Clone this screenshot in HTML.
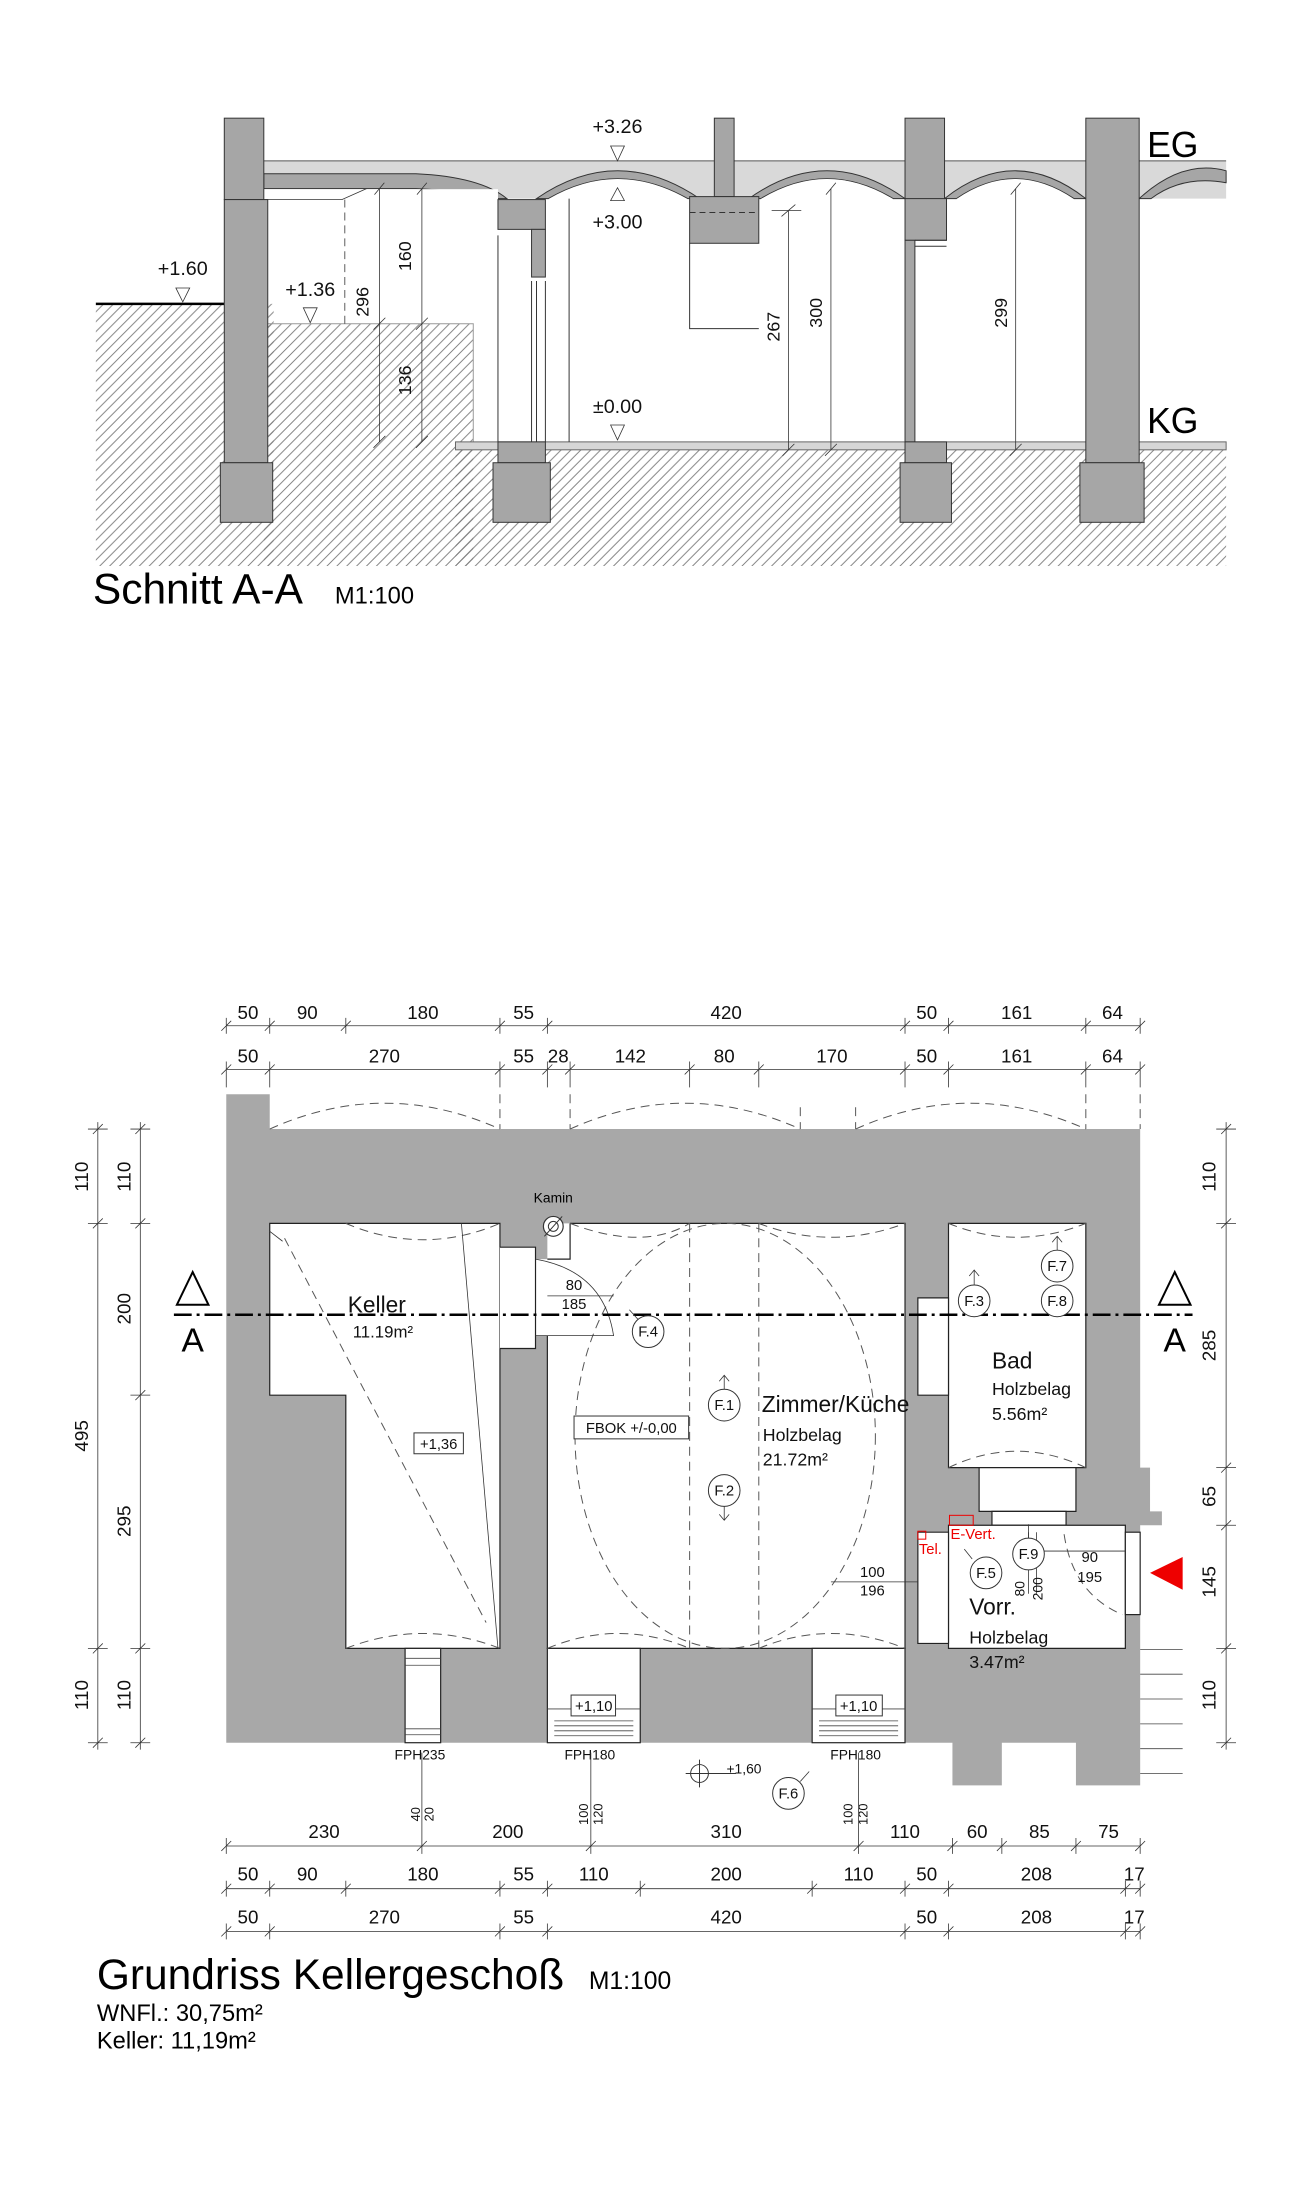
<!DOCTYPE html>
<html><head><meta charset="utf-8"><style>
html,body{margin:0;padding:0;background:#fff;}
svg{display:block;font-family:"Liberation Sans",sans-serif;}
</style></head><body>
<svg width="1290" height="2187" viewBox="0 0 1290 2187" xmlns="http://www.w3.org/2000/svg">
<defs>
<pattern id="h" patternUnits="userSpaceOnUse" width="10" height="10">
<path d="M-2,12 L12,-2 M-2,2 L2,-2 M8,12 L12,8" stroke="#777" stroke-width="0.9"/>
</pattern>
</defs>
<g transform="matrix(0.988 0 0 0.993 1 0)">
<!-- ============ SECTION ============ -->
<g stroke="#333" stroke-width="1">
<rect x="96" y="306" width="180" height="264" fill="url(#h)" stroke="none"/>
<rect x="266" y="326" width="212" height="244" fill="url(#h)" stroke="none"/>
<rect x="460" y="453" width="780" height="117" fill="url(#h)" stroke="none"/>
<path d="M266,326 H478 V445" fill="none" stroke="#999"/>
<line x1="96" y1="306" x2="226" y2="306" stroke="#000" stroke-width="2.5"/>
<rect x="460" y="445" width="780" height="8" fill="#d6d6d6" stroke="#666"/>
<rect x="266" y="162" width="974" height="38" fill="#d9d9d9" stroke="none"/>
<line x1="266" y1="162" x2="1240" y2="162" stroke="#555"/>
<path d="M266,175 L420,175 Q485,178 512,200 L498,200 Q470,192 420,190 L266,190 Z" fill="#a6a6a6"/>
<rect x="266" y="190.5" width="237" height="12" fill="#fff" stroke="none"/>
<path d="M542,200 Q624,144 707,200 L695,200 Q624,160 554,200 Z" fill="#a6a6a6"/>
<path d="M554,200.5 Q624,160 695,200.5 Z" fill="#fff" stroke="none"/>
<path d="M757,200 Q836,144 915,200 L903,200 Q836,160 769,200 Z" fill="#a6a6a6"/>
<path d="M769,200.5 Q836,160 903,200.5 Z" fill="#fff" stroke="none"/>
<path d="M955,200 Q1026,144 1098,200 L1086,200 Q1026,160 967,200 Z" fill="#a6a6a6"/>
<path d="M967,200.5 Q1026,160 1086,200.5 Z" fill="#fff" stroke="none"/>
<path d="M1152,200 Q1196,160 1240,172 L1240,184 Q1196,176 1164,200 Z" fill="#a6a6a6"/>
<rect x="226" y="119" width="40" height="82" fill="#a6a6a6"/>
<rect x="226" y="201" width="44" height="265" fill="#a6a6a6"/>
<rect x="222" y="466" width="53" height="60" fill="#a6a6a6"/>
<rect x="503" y="201" width="48" height="30" fill="#a6a6a6"/>
<rect x="537" y="231" width="14" height="48" fill="#a6a6a6"/>
<line x1="503" y1="237" x2="503" y2="445"/><line x1="537" y1="283" x2="537" y2="445"/>
<line x1="542" y1="283" x2="542" y2="445"/><line x1="551" y1="283" x2="551" y2="445"/>
<line x1="575" y1="200" x2="575" y2="445"/>
<rect x="503" y="445" width="48" height="21" fill="#a6a6a6"/>
<rect x="498" y="466" width="58" height="60" fill="#a6a6a6"/>
<rect x="722" y="119" width="20" height="79" fill="#a6a6a6"/>
<rect x="697" y="198" width="70" height="47" fill="#a6a6a6"/>
<path d="M697,245 V331 H767" fill="none"/>
<line x1="697" y1="214" x2="767" y2="214" stroke-dasharray="6,4"/>
<rect x="915" y="119" width="40" height="82" fill="#a6a6a6"/>
<rect x="915" y="200" width="42" height="42" fill="#a6a6a6"/>
<rect x="915" y="242" width="10" height="203" fill="#a6a6a6"/>
<line x1="925" y1="242" x2="957" y2="242"/><line x1="925" y1="248" x2="957" y2="248"/>
<rect x="915" y="445" width="42" height="21" fill="#a6a6a6"/>
<rect x="910" y="466" width="52" height="60" fill="#a6a6a6"/>
<rect x="1098" y="119" width="54" height="347" fill="#a6a6a6"/>
<rect x="1092" y="466" width="65" height="60" fill="#a6a6a6"/>
</g>
<g stroke="#333" stroke-width="0.8" fill="none">
<path d="M266,201 H345 L370,190" /><line x1="348" y1="201" x2="348" y2="326" stroke-dasharray="8,5"/>
<line x1="383" y1="190" x2="383" y2="445"/><line x1="426" y1="190" x2="426" y2="445"/>
<line x1="797" y1="212" x2="797" y2="453"/><line x1="840" y1="190" x2="840" y2="453"/><line x1="1027" y1="190" x2="1027" y2="453"/>
<path d="M780,212 H810 M790,218 L804,206 M377,451 L389,439 M420,451 L432,439 M377,332 L389,320 M420,332 L432,320 M791,459 L803,447 M834,459 L846,447 M1021,459 L1033,447 M835,196 L845,184 M1022,196 L1032,184 M378,196 L388,184 M421,196 L431,184"/>
<path d="M617,147 H631 L624,162 Z M617,202 H631 L624,189 Z M617,428 H631 L624,443 Z M177,290 H191 L184,304 Z M306,310 H320 L313,325 Z"/>
</g>
<g font-size="20" fill="#111" text-anchor="middle">
<text x="624" y="134">+3.26</text>
<text x="624" y="230">+3.00</text>
<text x="624" y="416">±0.00</text>
<text x="184" y="277">+1.60</text>
<text x="313" y="298">+1.36</text>
<text transform="translate(372,304) rotate(-90)" font-size="18">296</text>
<text transform="translate(415,258) rotate(-90)" font-size="18">160</text>
<text transform="translate(415,383) rotate(-90)" font-size="18">136</text>
<text transform="translate(788,329) rotate(-90)" font-size="18">267</text>
<text transform="translate(831,315) rotate(-90)" font-size="18">300</text>
<text transform="translate(1018,315) rotate(-90)" font-size="18">299</text>
</g>
<text x="1186" y="158" font-size="36" text-anchor="middle">EG</text>
<text x="1186" y="436" font-size="36" text-anchor="middle">KG</text>
<text x="93" y="608" font-size="43">Schnitt A-A</text>
<text x="338" y="608" font-size="24">M1:100</text>

<!-- ============ PLAN ============ -->
<g transform="translate(0,5)">
<path d="M228,1097 H272 V1132 H1153 V1473 H1163 V1517 H1175 V1531 H1153 V1750 H1153 V1793 H1088 V1750 H1013 V1793 H963 V1750 H228 Z" fill="#a8a8a8"/>
<g fill="#fff" stroke="#222" stroke-width="1.2">
<path d="M272,1227 H505 V1655 H349 V1400 H272 Z"/>
<path d="M505,1251 H541 V1263 H553 V1227 H576 V1263 H576 V1227 H915 V1655 H553 V1340 H541 V1353 H505 Z" stroke="none"/>
<path d="M576,1227 H915 V1655 H553 V1340 M553,1263 H576 V1227" fill="none"/>
<path d="M505,1251 H541 V1353 H505" fill="#fff"/>
<path d="M959,1227 H1098 V1473 H959 Z"/>
<path d="M928,1302 H959 V1400 H928 Z"/>
<path d="M990,1473 H1088 V1517 H990 Z"/>
<path d="M1003,1517 H1078 V1531 H1003 Z"/>
<path d="M959,1531 H1138 V1655 H959 Z"/>
<path d="M928,1538 H959 V1650 H928 Z"/>
<rect x="1138" y="1538" width="15" height="83"/>
<rect x="409" y="1655" width="36" height="95"/>
<rect x="553" y="1655" width="94" height="95"/>
<rect x="821" y="1655" width="94" height="95"/>
</g>
<g stroke="#444" stroke-width="0.8" fill="none">
<path d="M409,1665 H445 M409,1672 H445 M409,1736 H445 M409,1742 H445"/>
<path d="M553,1716 H647 M821,1716 H915"/>
<path d="M560,1728 H640 M560,1733 H640 M560,1738 H640 M560,1743 H640 M828,1728 H908 M828,1733 H908 M828,1738 H908 M828,1743 H908"/>
<path d="M1153,1656 H1196 M1153,1681 H1196 M1153,1706 H1196 M1153,1731 H1196 M1153,1756 H1196 M1153,1781 H1196"/>
</g>
<g stroke="#555" stroke-width="1" fill="none" stroke-dasharray="9,6">
<path d="M272,1132 Q388,1080 505,1132 M576,1132 Q692,1080 809,1132 M865,1132 Q981,1080 1098,1132"/>
<path d="M505,1097 V1132 M576,1097 V1132 M809,1110 V1132 M865,1110 V1132 M1098,1097 V1132 M1153,1097 V1132"/>
<path d="M349,1227 Q427,1260 505,1227 M349,1655 Q427,1625 505,1655 M576,1227 Q650,1255 697,1227 M767,1227 Q840,1255 915,1227 M553,1655 Q625,1625 697,1655 M767,1655 Q840,1625 915,1655 M959,1227 Q1028,1255 1098,1227 M959,1473 Q1028,1440 1098,1473"/>
<ellipse cx="733" cy="1441" rx="152" ry="214"/>
<path d="M697,1227 V1655 M767,1227 V1655"/>
<path d="M287,1242 L491,1629"/>
<path d="M1076,1540 Q1085,1600 1135,1621"/>
</g>
<g stroke="#333" stroke-width="0.8" fill="none">
<path d="M466,1227 L503,1655 M272,1235 L285,1245"/>
<path d="M541,1263 Q610,1275 620,1340 H541"/>
<path d="M1138,1557 H1040"/>
<path d="M840,1588 H928 M553,1300 H620"/>
<path d="M1040,1538 V1600 M1048,1538 V1600"/>
</g>
<line x1="175" y1="1319" x2="1206" y2="1319" stroke="#000" stroke-width="2.5" stroke-dasharray="18,5,3,5"/>
<path d="M178,1309 L194,1276 L210,1309 Z M1172,1309 L1188,1276 L1204,1309 Z" fill="#fff" stroke="#000" stroke-width="2"/>
<text x="194" y="1356" font-size="34" text-anchor="middle">A</text>
<text x="1188" y="1356" font-size="34" text-anchor="middle">A</text>
<circle cx="559" cy="1230" r="10" fill="#fff" stroke="#333" stroke-width="1.2"/><circle cx="559" cy="1230" r="5" fill="none" stroke="#333"/>
<line x1="550" y1="1240" x2="568" y2="1220" stroke="#333"/>
<text x="559" y="1206" font-size="14" text-anchor="middle">Kamin</text>
<g fill="#111">
<text x="351" y="1317" font-size="23">Keller</text>
<text x="356" y="1342" font-size="17">11.19m²</text>
<text x="770" y="1417" font-size="23">Zimmer/Küche</text>
<text x="771" y="1446" font-size="18">Holzbelag</text>
<text x="771" y="1471" font-size="18">21.72m²</text>
<text x="1003" y="1373" font-size="23">Bad</text>
<text x="1003" y="1400" font-size="18">Holzbelag</text>
<text x="1003" y="1425" font-size="18">5.56m²</text>
<text x="980" y="1621" font-size="23">Vorr.</text>
<text x="980" y="1650" font-size="18">Holzbelag</text>
<text x="980" y="1675" font-size="18">3.47m²</text>
</g>
<g fill="#fff" stroke="#333" stroke-width="1">
<rect x="418" y="1438" width="50" height="21"/><rect x="580" y="1421" width="116" height="23"/>
<rect x="577" y="1702" width="45" height="21"/><rect x="845" y="1702" width="47" height="21"/>
</g>
<g font-size="15" text-anchor="middle" fill="#111">
<text x="443" y="1454">+1,36</text><text x="638" y="1438">FBOK +/-0,00</text>
<text x="600" y="1718">+1,10</text><text x="868" y="1718">+1,10</text>
<text x="580" y="1294">80</text><text x="580" y="1313">185</text>
<text x="882" y="1583">100</text><text x="882" y="1602">196</text>
<text x="1102" y="1568">90</text><text x="1102" y="1588">195</text>
<text transform="translate(1036,1595) rotate(-90)" font-size="14">80</text>
<text transform="translate(1054,1595) rotate(-90)" font-size="14">200</text>
<text x="424" y="1767" font-size="14">FPH235</text><text x="596" y="1767" font-size="14">FPH180</text><text x="865" y="1767" font-size="14">FPH180</text>
<text x="752" y="1781" font-size="14">+1,60</text>
<text transform="translate(424,1822) rotate(-90)" font-size="13">40</text><text transform="translate(438,1822) rotate(-90)" font-size="13">20</text>
<text transform="translate(594,1822) rotate(-90)" font-size="13">100</text><text transform="translate(609,1822) rotate(-90)" font-size="13">120</text>
<text transform="translate(862,1822) rotate(-90)" font-size="13">100</text><text transform="translate(877,1822) rotate(-90)" font-size="13">120</text>
</g>
<circle cx="707" cy="1781" r="9" fill="none" stroke="#333"/><path d="M693,1781 H744 M707,1767 V1795" stroke="#333" fill="none"/>
<g fill="#fff" stroke="#333" stroke-width="1">
<circle cx="732" cy="1410" r="16"/><circle cx="732" cy="1496" r="16"/><circle cx="985" cy="1305" r="16"/>
<circle cx="1069" cy="1270" r="16"/><circle cx="1069" cy="1305" r="16"/><circle cx="655" cy="1336" r="16"/>
<circle cx="997" cy="1579" r="16"/><circle cx="1040" cy="1560" r="16"/><circle cx="797" cy="1801" r="16"/>
</g>
<g stroke="#333" fill="none" stroke-width="0.8">
<path d="M732,1394 V1380 M727,1386 L732,1380 L737,1386 M732,1512 V1526 M727,1520 L732,1526 L737,1520 M985,1289 V1274 M980,1280 L985,1274 L990,1280 M1069,1254 V1240 M1064,1246 L1069,1240 L1074,1246 M645,1324 L636,1314 M983,1565 L975,1555 M1040,1544 V1530 M809,1789 L818,1779"/>
</g>
<g font-size="15" text-anchor="middle" fill="#111">
<text x="732" y="1415">F.1</text><text x="732" y="1501">F.2</text><text x="985" y="1310">F.3</text>
<text x="1069" y="1275">F.7</text><text x="1069" y="1310">F.8</text><text x="655" y="1341">F.4</text>
<text x="997" y="1584">F.5</text><text x="1040" y="1565">F.9</text><text x="797" y="1806">F.6</text>
</g>
<rect x="960" y="1521" width="24" height="10" fill="none" stroke="#e00"/>
<rect x="928" y="1537" width="8" height="8" fill="none" stroke="#e00"/>
<text x="961" y="1545" font-size="15" fill="#e00">E-Vert.</text>
<text x="929" y="1560" font-size="15" fill="#e00">Tel.</text>
<path d="M1163,1579 L1196,1563 L1196,1596 Z" fill="#e00"/>

<g stroke="#333" stroke-width="0.8" fill="none">
<path d="M228,1028 H1153 M228,1072 H1153"/>
<path d="M223,1033L233,1023M228,1020V1036 M267,1033L277,1023M272,1020V1036 M344,1033L354,1023M349,1020V1036 M500,1033L510,1023M505,1020V1036 M548,1033L558,1023M553,1020V1036 M910,1033L920,1023M915,1020V1036 M954,1033L964,1023M959,1020V1036 M1093,1033L1103,1023M1098,1020V1036 M1148,1033L1158,1023M1153,1020V1036"/>
<path d="M223,1077L233,1067M228,1064V1090 M267,1077L277,1067M272,1064V1090 M500,1077L510,1067M505,1064V1090 M548,1077L558,1067M553,1064V1090 M571,1077L581,1067M576,1064V1090 M692,1077L702,1067M697,1064V1090 M762,1077L772,1067M767,1064V1090 M910,1077L920,1067M915,1064V1090 M954,1077L964,1067M959,1064V1090 M1093,1077L1103,1067M1098,1064V1090 M1148,1077L1158,1067M1153,1064V1090"/>
<path d="M98,1125 V1757 M141,1125 V1757 M1240,1125 V1757"/>
<path d="M93,1137L103,1127M88,1132H108 M93,1232L103,1222M88,1227H108 M93,1660L103,1650M88,1655H108 M93,1755L103,1745M88,1750H108"/>
<path d="M136,1137L146,1127M131,1132H151 M136,1232L146,1222M131,1227H151 M136,1405L146,1395M131,1400H151 M136,1660L146,1650M131,1655H151 M136,1755L146,1745M131,1750H151"/>
<path d="M1235,1137L1245,1127M1230,1132H1250 M1235,1232L1245,1222M1230,1227H1250 M1235,1478L1245,1468M1230,1473H1250 M1235,1536L1245,1526M1230,1531H1250 M1235,1660L1245,1650M1230,1655H1250 M1235,1755L1245,1745M1230,1750H1250"/>
<path d="M228,1854 H1153 M228,1897 H1153 M228,1940 H1153"/>
<path d="M426,1760 V1862 M597,1760 V1862 M868,1760 V1862"/>
<path d="M223,1859L233,1849M228,1846V1862 M421,1859L431,1849 M592,1859L602,1849 M863,1859L873,1849 M958,1859L968,1849M963,1846V1862 M1008,1859L1018,1849M1013,1846V1862 M1083,1859L1093,1849M1088,1846V1862 M1148,1859L1158,1849M1153,1846V1862"/>
<path d="M223,1902L233,1892M228,1889V1905 M267,1902L277,1892M272,1889V1905 M344,1902L354,1892M349,1889V1905 M500,1902L510,1892M505,1889V1905 M548,1902L558,1892M553,1889V1905 M642,1902L652,1892M647,1889V1905 M816,1902L826,1892M821,1889V1905 M910,1902L920,1892M915,1889V1905 M954,1902L964,1892M959,1889V1905 M1133,1902L1143,1892M1138,1889V1905 M1148,1902L1158,1892M1153,1889V1905"/>
<path d="M223,1945L233,1935M228,1932V1948 M267,1945L277,1935M272,1932V1948 M500,1945L510,1935M505,1932V1948 M548,1945L558,1935M553,1932V1948 M910,1945L920,1935M915,1932V1948 M954,1945L964,1935M959,1932V1948 M1133,1945L1143,1935M1138,1932V1948 M1148,1945L1158,1935M1153,1932V1948"/>
</g>
<g font-size="19" text-anchor="middle" fill="#111">
<text x="250" y="1021">50</text><text x="310" y="1021">90</text><text x="427" y="1021">180</text><text x="529" y="1021">55</text><text x="734" y="1021">420</text><text x="937" y="1021">50</text><text x="1028" y="1021">161</text><text x="1125" y="1021">64</text>
<text x="250" y="1065">50</text><text x="388" y="1065">270</text><text x="529" y="1065">55</text><text x="564" y="1065">28</text><text x="637" y="1065">142</text><text x="732" y="1065">80</text><text x="841" y="1065">170</text><text x="937" y="1065">50</text><text x="1028" y="1065">161</text><text x="1125" y="1065">64</text>
<text x="327" y="1846">230</text><text x="513" y="1846">200</text><text x="734" y="1846">310</text><text x="915" y="1846">110</text><text x="988" y="1846">60</text><text x="1051" y="1846">85</text><text x="1121" y="1846">75</text>
<text x="250" y="1889">50</text><text x="310" y="1889">90</text><text x="427" y="1889">180</text><text x="529" y="1889">55</text><text x="600" y="1889">110</text><text x="734" y="1889">200</text><text x="868" y="1889">110</text><text x="937" y="1889">50</text><text x="1048" y="1889">208</text><text x="1147" y="1889">17</text>
<text x="250" y="1932">50</text><text x="388" y="1932">270</text><text x="529" y="1932">55</text><text x="734" y="1932">420</text><text x="937" y="1932">50</text><text x="1048" y="1932">208</text><text x="1147" y="1932">17</text>
<text transform="translate(88,1180) rotate(-90)">110</text><text transform="translate(88,1441) rotate(-90)">495</text><text transform="translate(88,1702) rotate(-90)">110</text>
<text transform="translate(131,1180) rotate(-90)">110</text><text transform="translate(131,1313) rotate(-90)">200</text><text transform="translate(131,1527) rotate(-90)">295</text><text transform="translate(131,1702) rotate(-90)">110</text>
<text transform="translate(1229,1180) rotate(-90)">110</text><text transform="translate(1229,1350) rotate(-90)">285</text><text transform="translate(1229,1502) rotate(-90)">65</text><text transform="translate(1229,1588) rotate(-90)">145</text><text transform="translate(1229,1702) rotate(-90)">110</text>
</g>
<text x="97" y="1998" font-size="43">Grundriss Kellergeschoß</text>
<text x="595" y="1998" font-size="25">M1:100</text>
<text x="97" y="2030" font-size="24">WNFl.: 30,75m²</text>
<text x="97" y="2058" font-size="24">Keller: 11,19m²</text>
</g>
</g>
</svg>
</body></html>
